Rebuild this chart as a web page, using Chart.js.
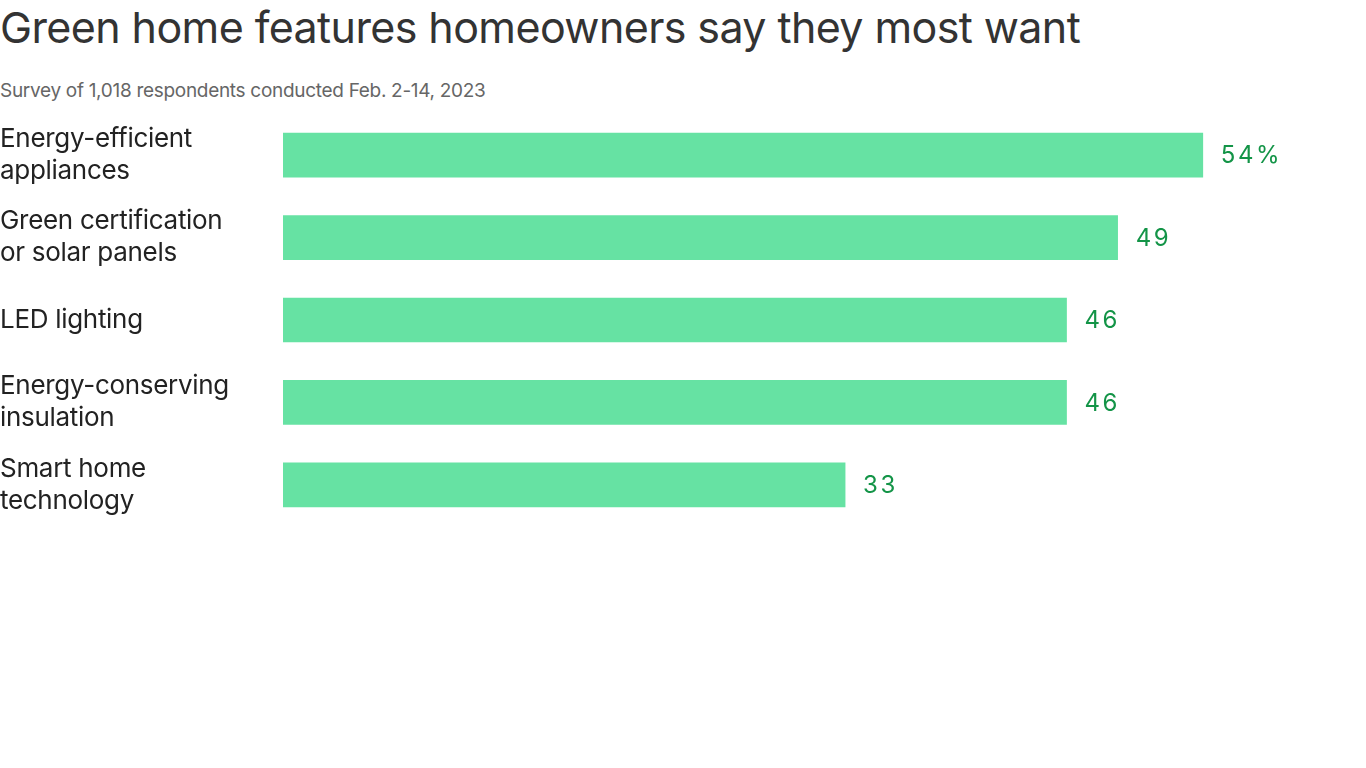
<!DOCTYPE html>
<html>
<head>
<meta charset="utf-8">
<script src="https://cdn.jsdelivr.net/npm/chart.js@4"></script>
<style>
  body { margin: 0; background: #fff; font-family: Inter, "Noto Sans", sans-serif; }
  h1 { position: absolute; left: 0; top: 1px; margin: 0; font-weight: 400; font-size: 43px; color: #333; letter-spacing: -0.6px; }
  .sub { position: absolute; left: 0; top: 79px; font-size: 19px; color: #666; letter-spacing: -0.3px; }
  #wrap { position: absolute; left: 0; top: 114px; width: 1366px; height: 412px; }
</style>
</head>
<body>
<h1>Green home features homeowners say they most want</h1>
<div class="sub">Survey of 1,018 respondents conducted Feb. 2-14, 2023</div>
<div id="wrap"><canvas id="chart"></canvas></div>
<script>
const categories = [
    ['Energy-efficient', 'appliances'],
    ['Green certification', 'or solar panels'],
    ['LED lighting'],
    ['Energy-conserving', 'insulation'],
    ['Smart home', 'technology']
];
const values = [54, 49, 46, 46, 33];
const valueLabels = ['54%', '49', '46', '46', '33'];

const labelPlugin = {
    id: 'valueLabels',
    afterDatasetsDraw(chart) {
        const ctx = chart.ctx;
        const meta = chart.getDatasetMeta(0);
        ctx.save();
        ctx.textBaseline = 'middle';
        meta.data.forEach((bar, i) => {
            // category label on the left
            ctx.fillStyle = '#222';
            ctx.font = '26px Inter, "Noto Sans", sans-serif';
            ctx.letterSpacing = '-0.3px';
            const lines = categories[i];
            const lh = 32;
            lines.forEach((line, j) => {
                ctx.fillText(line, 0, bar.y + (j - (lines.length - 1) / 2) * lh);
            });
            // value label
            ctx.fillStyle = '#139447';
            ctx.font = '24px Inter, "Noto Sans", sans-serif';
            ctx.letterSpacing = '2.5px';
            ctx.fillText(valueLabels[i], bar.x + 18, bar.y + 1);
        });
        ctx.restore();
    }
};

new Chart(document.getElementById('chart').getContext('2d'), {
    type: 'bar',
    data: {
        labels: categories.map(c => c.join(' ')),
        datasets: [{
            data: values,
            backgroundColor: '#66e2a3',
            barThickness: 44,
        }],
    },
    options: {
        indexAxis: 'y',
        responsive: true,
        maintainAspectRatio: false,
        animation: false,
        layout: { padding: { right: 61, top: 0, bottom: 0, left: 283 } },
        plugins: { legend: { display: false }, tooltip: { enabled: false } },
        scales: {
            x: { display: false, min: 0, max: 60 },
            y: { display: false },
        },
    },
    plugins: [labelPlugin],
});
</script>
</body>
</html>
